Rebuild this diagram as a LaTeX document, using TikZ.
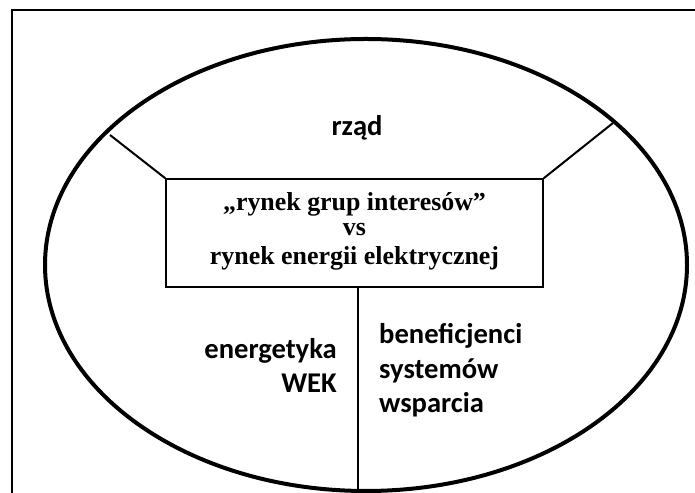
\documentclass[tikz,border=0pt]{standalone}
\usepackage{fontspec}
\setmainfont{Carlito}
\newfontfamily\timesfont{Liberation Serif}
\usepackage{tikz}
\usetikzlibrary{shapes, positioning}

\tikzset{
    grupa/.style={font=\bfseries\fontsize{28.7}{35}\selectfont, inner sep=0pt},
    rynek/.style={draw, line width=1.5bp, minimum width=377bp, minimum height=108bp,
        align=center, text depth=9bp, inner sep=0pt,
        font=\timesfont\bfseries\fontsize{26}{23.5}\selectfont},
    podzial/.style={line width=2bp}
}

\begin{document}
\begin{tikzpicture}[x=1bp, y=1bp]
        \clip (0,0) rectangle (695,493);
        \draw[line width=1.3bp] (12,-20) -- (12,483) -- (720,483);
        \draw[line width=4bp] (366,228) ellipse [x radius=321, y radius=226];
        \node[rynek] (box) at (354.5,260) {„rynek grup interesów”\\[2bp]vs\\[5bp]rynek energii elektrycznej};
        \coordinate (lewy) at (110,358);
        \coordinate (prawy) at (613,370);
        \coordinate (dol) at (358,2);
        \draw[podzial] (box.north west) -- (lewy);
        \draw[podzial] (box.north east) -- (prawy);
        \draw[podzial] (box.south -| dol) -- (dol);
        \node[grupa, anchor=base] (rzad) at (357,357) {rząd};
        \node[grupa, anchor=base east, align=right] (energetyka) at (337,100) {energetyka\\WEK};
        \node[grupa, anchor=base west, align=left] (beneficjenci) at (379,80) {beneficjenci\\systemów\\wsparcia};
    \end{tikzpicture}
\end{document}
